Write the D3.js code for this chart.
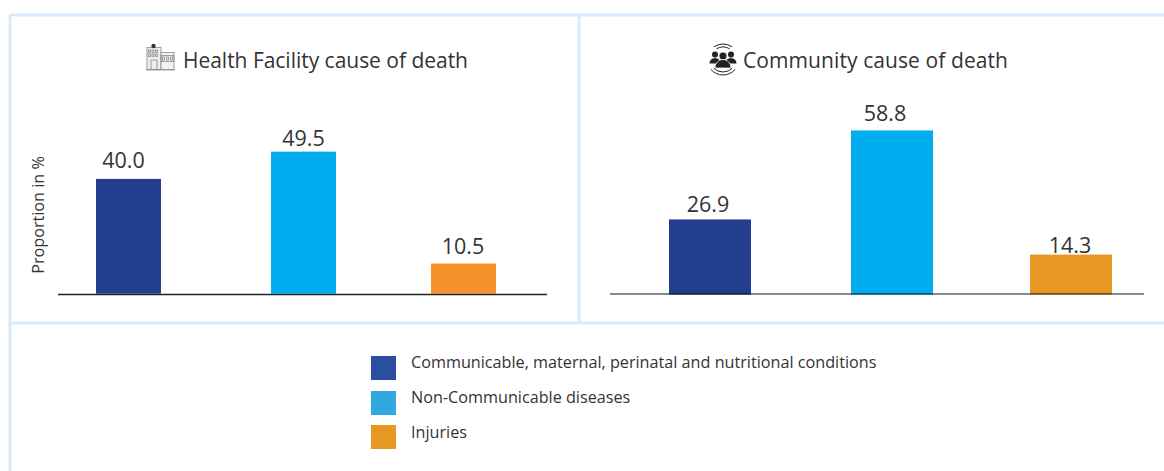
<!DOCTYPE html>
<html><head><meta charset="utf-8">
<style>html,body{margin:0;padding:0;background:#fff}svg{display:block}text{font-family:"Open Sans","Noto Sans",sans-serif}</style>
<script src="https://cdn.jsdelivr.net/npm/d3@7"></script></head>
<body><svg id="c" width="1164" height="471"></svg>
<script>
const categories = ["Communicable, maternal, perinatal and nutritional conditions","Non-Communicable diseases","Injuries"];
const facilityValues = [40.0,49.5,10.5];
const communityValues = [26.9,58.8,14.3];
const facilityLabels = ["40.0","49.5","10.5"];
const communityLabels = ["26.9","58.8","14.3"];
const barColors = ["#233e8f","#00aeef","#f6922a"];
const communityBarColors = ["#233e8f","#00aeef","#e79822"];
const legendColors = ["#2b4f9f","#31a8e0","#e79822"];
const border = "#d9eafa", ink = "#333336";
const svg = d3.select("#c");

// frame
const frame = [[10,15,1164,15],[10,15,10,471],[579,15,579,322],[10,323,1164,323]];
svg.append("g").selectAll("line").data(frame).join("line")
  .attr("x1",d=>d[0]).attr("y1",d=>d[1]).attr("x2",d=>d[2]).attr("y2",d=>d[3])
  .attr("stroke",border).attr("stroke-width",3);

function panel(o){
  const g = svg.append("g");
  const x = d3.scaleOrdinal().domain(categories).range(o.centers);
  const lx = d3.scaleOrdinal().domain(categories).range(o.labelCenters);
  const y = d3.scaleLinear().domain([0,60]).range([o.base,o.base-60*o.k]);
  g.selectAll("rect").data(o.values).join("rect")
    .attr("x",(d,i)=>x(categories[i])-o.w/2).attr("width",o.w)
    .attr("y",d=>y(d)).attr("height",d=>o.base-y(d))
    .attr("fill",(d,i)=>o.colors[i]);
  g.selectAll("text.v").data(o.values).join("text").attr("class","v")
    .attr("x",(d,i)=>lx(categories[i])).attr("y",(d,i)=>y(d)-o.labelGap[i])
    .attr("text-anchor","middle").attr("font-size",21.5).attr("fill",ink)
    .text((d,i)=>o.labels[i]);
  g.append("line").attr("x1",o.x0).attr("x2",o.x1).attr("y1",o.axisY).attr("y2",o.axisY)
    .attr("stroke",o.axisColor).attr("stroke-width",1.4);
  g.append("text").attr("x",o.tx).attr("y",68).attr("font-size",21).attr("fill",ink)
    .attr("textLength",o.tw).attr("lengthAdjust","spacing").text(o.title);
}
panel({values:facilityValues,labels:facilityLabels,colors:barColors,centers:[128.5,303.5,463.5],labelCenters:[123.5,303.5,463],labelGap:[11,5.5,9.5],w:65,base:293.7,axisY:294.5,axisColor:"#222",k:2.87,x0:58,x1:547,tx:183,tw:285,title:"Health Facility cause of death"});
panel({values:communityValues,labels:communityLabels,colors:communityBarColors,centers:[710,892,1071],labelCenters:[708,885,1070],labelGap:[7,9,2],w:82,base:294.5,axisY:294,axisColor:"rgba(0,0,0,.62)",k:2.79,x0:610,x1:1144,tx:743,tw:265,title:"Community cause of death"});

svg.append("text").attr("transform","translate(44,215) rotate(-90)").attr("text-anchor","middle")
  .attr("font-size",16.2).attr("fill",ink).text("Proportion in %");

// legend
const legendY = [356,391,425], legendTextY=[368,403,438];
const lg = svg.append("g");
lg.selectAll("rect").data(categories).join("rect")
  .attr("x",371).attr("y",(d,i)=>legendY[i]).attr("width",25).attr("height",24)
  .attr("fill",(d,i)=>legendColors[i]);
lg.selectAll("text").data(categories).join("text")
  .attr("x",411).attr("y",(d,i)=>legendTextY[i]).attr("font-size",16.2).attr("fill",ink).text(d=>d);

// hospital icon
const h = svg.append("g").attr("fill","none").attr("stroke","#8a8a8a").attr("stroke-width",.8);
h.append("rect").attr("x",147).attr("y",47.5).attr("width",14).attr("height",22).attr("fill","#eee");
h.append("rect").attr("x",161).attr("y",52.5).attr("width",13).attr("height",17).attr("fill","#f3f3f3");
h.append("rect").attr("x",161).attr("y",55.5).attr("width",13).attr("height",6);
h.append("rect").attr("x",151).attr("y",60).attr("width",6).attr("height",9.5);
h.append("line").attr("x1",146).attr("x2",175).attr("y1",70).attr("y2",70);
h.selectAll("rect.w").data(d3.cross([148.5,152,155.5],[50,54])).join("rect").attr("class","w")
  .attr("x",d=>d[0]).attr("y",d=>d[1]).attr("width",2).attr("height",2.4);
h.selectAll("rect.k").data([162.5,166.5,170.5]).join("rect").attr("class","k")
  .attr("x",d=>d).attr("y",57).attr("width",2).attr("height",3);
svg.append("circle").attr("cx",153.5).attr("cy",46).attr("r",2.2).attr("fill","#333");

// community icon
const p = svg.append("g").attr("fill","#222");
[715,731].forEach(cx=>{
  p.append("circle").attr("cx",cx).attr("cy",54.5).attr("r",3);
  p.append("path").attr("d",`M${cx-5.5},63.5 a5.5,5.5 0 0 1 11,0 z`);
});
p.append("circle").attr("cx",723).attr("cy",56).attr("r",4).attr("stroke","#fff").attr("stroke-width",.7);
p.append("path").attr("d","M715,68 a8,8.5 0 0 1 16,0 z").attr("stroke","#fff").attr("stroke-width",.7);
const arcs=[[723,60,16,-125,-55],[723,60,13,-120,-60],[723,59,16,140,40],[723,59,13,135,45]];
svg.append("g").selectAll("path").data(arcs).join("path")
  .attr("fill","none").attr("stroke","#222").attr("stroke-width",1)
  .attr("d",d=>{const r=d[2],a=d[3]*Math.PI/180,b=d[4]*Math.PI/180;
    const up=d[3]<0;
    return `M${d[0]+r*Math.cos(a)},${d[1]+r*Math.sin(a)} A${r},${r} 0 0 ${up?1:0} ${d[0]+r*Math.cos(b)},${d[1]+r*Math.sin(b)}`;});
</script></body></html>
